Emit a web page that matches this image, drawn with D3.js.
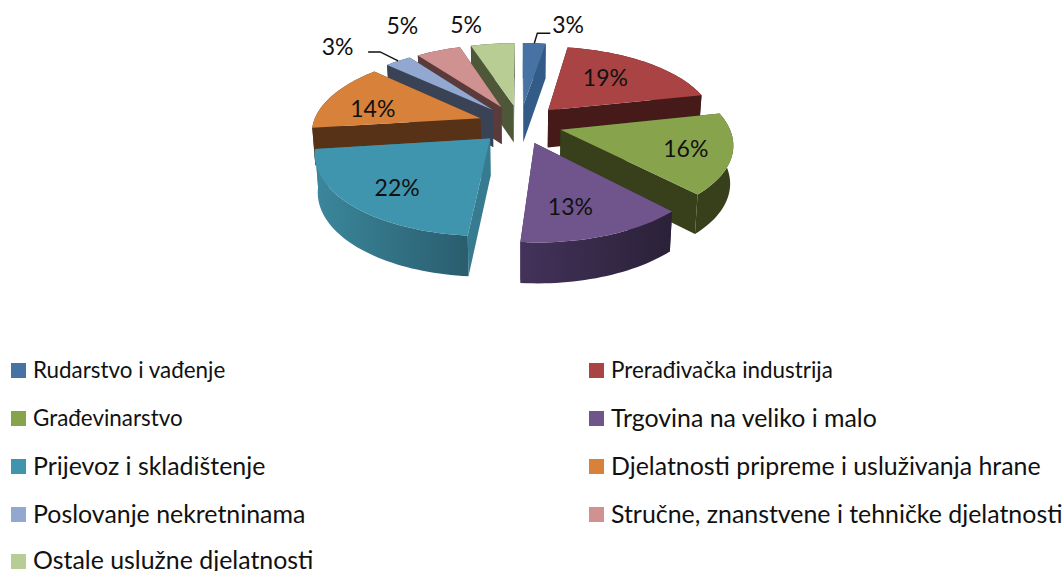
<!DOCTYPE html>
<html><head><meta charset="utf-8">
<script src="https://cdnjs.cloudflare.com/ajax/libs/d3/7.8.5/d3.min.js"></script>
<style>html,body{margin:0;padding:0;background:#fff}svg{display:block}text{font-family:Lato,"Open Sans",sans-serif;fill:#111}</style>
</head><body><svg id="c" width="1063" height="571"></svg>
<script>
const categories=["Rudarstvo i vađenje","Prerađivačka industrija","Građevinarstvo","Trgovina na veliko i malo","Prijevoz i skladištenje","Djelatnosti pripreme i usluživanja hrane","Poslovanje nekretninama","Stručne, znanstvene i tehničke djelatnosti","Ostale uslužne djelatnosti"];
const shares=[2.6,19,16.3,13.4,21.7,13.9,3,5.1,5];

// styles
const topColors=["#4672a4","#aa4344","#87a34c","#70548c","#3f94ae","#d8813b","#92a8d0","#d09191","#b8cd94"];
const sideColors=["#335b87","#451a18","#383f1b","#3b2a4d","#367b90","#573217","#3a4256","#5b3a3a","#4e5738"];
const wallStart=["#335b87","#451a18","#383f1b","#43325a","#3b879c","#573217","#3a4256","#5b3a3a","#4e5738"];
const wallEnd=["#335b87","#451a18","#383f1b","#2a2138","#2a5d6e","#573217","#3a4256","#5b3a3a","#4e5738"];
const drawOrder=[0,8,7,6,1,5,2,4,3];
// label layout: radius as a fraction of R, angular nudge in degrees
const labelRadius=[1.38,.61,.74,.7,.73,.68,1.49,1.56,1.4];
const labelNudge=[9.5,-4,1,5,-3,-7,-7,-2,-6];
const legendFont=[22.4,22.4,22.4,24.9,24.9,24.9,24.9,24.9,24.9];
const legendRows=[370,418,466,514,560];
const legendCols=[11,589];

// projection of the tilted, exploded pie
const cx=520,cy=124,R=167.5,E=42,tilt=.462,q=.000928;
const svg=d3.select("#c");
const defs=svg.append("defs");
function proj(X,Y,bottom){
  const s=1/(1+q*Y);
  let x=cx+X*s,y=cy-Y*tilt*s;
  if(bottom){x=cx+(x-cx)*.985;y+=23+14.5*s;}
  return [x,y];
}
const pol=(a,r,off,b)=>proj(r*Math.sin(a)+off[0],r*Math.cos(a)+off[1],b);
const slices=d3.pie().sort(null).startAngle(0).endAngle(2*Math.PI)(shares);
const line=d3.line();
const arcPts=(a0,a1,off,b)=>{
  const n=Math.max(4,Math.ceil((a1-a0)/.03));
  return d3.range(n+1).map(i=>pol(a0+(a1-a0)*i/n,R,off,b));
};
drawOrder.forEach(i=>{
  const d=slices[i],mid=(d.startAngle+d.endAngle)/2;
  const off=[E*Math.sin(mid),E*Math.cos(mid)];
  const g=svg.append("g");
  const a0=d.startAngle,a1=d.endAngle;
  const apexT=proj(off[0],off[1]),apexB=proj(off[0],off[1],true);
  // radial walls
  [a0,a1].forEach(a=>{
    g.append("path").attr("fill",sideColors[i])
     .attr("d",line([apexT,pol(a,R,off),pol(a,R,off,true),apexB])+"Z");
  });
  // outer wall with gradient
  const top=arcPts(a0,a1,off),bot=arcPts(a0,a1,off,true).reverse();
  const xs=top.map(p=>p[0]);
  const gid="w"+i;
  const lg=defs.append("linearGradient").attr("id",gid).attr("gradientUnits","userSpaceOnUse")
    .attr("x1",d3.min(xs)).attr("x2",d3.max(xs)).attr("y1",0).attr("y2",0);
  lg.append("stop").attr("offset",0).attr("stop-color",wallStart[i]);
  lg.append("stop").attr("offset",1).attr("stop-color",wallEnd[i]);
  g.append("path").attr("fill",`url(#${gid})`).attr("d",line(top.concat(bot))+"Z");
  // top face
  g.append("path").attr("fill",topColors[i]).attr("d",line([apexT].concat(top))+"Z");
});
// percentage labels
slices.forEach((d,i)=>{
  const mid=(d.startAngle+d.endAngle)/2,off=[E*Math.sin(mid),E*Math.cos(mid)];
  const p=pol(mid+labelNudge[i]*Math.PI/180,R*labelRadius[i],off);
  svg.append("text").attr("x",p[0]).attr("y",p[1]).attr("dy","0.35em").attr("text-anchor","middle")
    .attr("font-size",23).text(Math.round(shares[i])+"%");
});
// leader lines for the two thin slices
[[0,1],[6,-1]].forEach(([i,dir])=>{
  const d=slices[i],mid=(d.startAngle+d.endAngle)/2,off=[E*Math.sin(mid),E*Math.cos(mid)];
  const a=pol(mid,R,off),b=[a[0]+(dir>0?3:-18),a[1]-(dir>0?10:9)],c=[b[0]+dir*(dir>0?13:12),b[1]];
  svg.append("path").attr("fill","none").attr("stroke","#111").attr("stroke-width",1.4).attr("d",line([a,b,c]));
});
// legend
categories.forEach((name,i)=>{
  const x=legendCols[i%2],y=legendRows[Math.floor(i/2)];
  svg.append("rect").attr("x",x).attr("y",(i===8?y-6:y-7)).attr("width",15).attr("height",15).attr("fill",topColors[i]);
  svg.append("text").attr("x",x+22).attr("y",y).attr("dy","0.35em").attr("font-size",legendFont[i]).text(name);
});
</script></body></html>
